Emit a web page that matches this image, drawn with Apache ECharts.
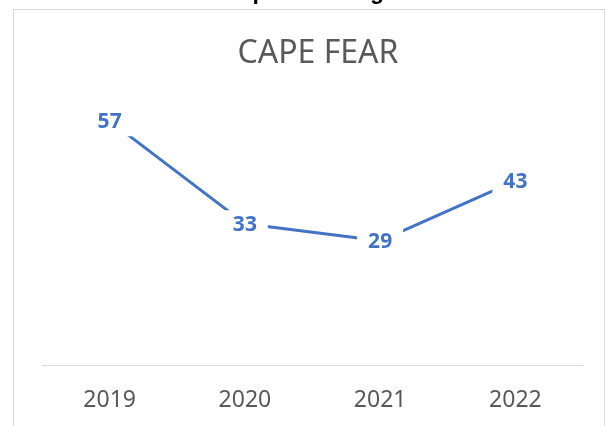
<!DOCTYPE html>
<html lang="en">
<head>
    <meta charset="UTF-8">
    <title>CAPE FEAR</title>
    <style>
        * {
            padding: 0;
            margin: 0;
            box-sizing: border-box;
        }

        html,
        body,
        .chart-container {
            width: 100%;
            height: 100%;
            background: #fff;
        }
    </style>
</head>
<body>
    <div id="chart-container" class="chart-container"></div>
</body>
</html>
<script src="https://cdn.jsdelivr.net/npm/echarts@6/dist/echarts.min.js"></script>
<script>
    // 年份
    const years = ['2019', '2020', '2021', '2022']
    // 数值
    const values = [57, 33, 29, 43]
    // 纵轴范围
    const yMin = 0
    const yMax = 60

    var myChart = echarts.init(document.getElementById('chart-container'))

    var option = {
        backgroundColor: '#fff',
        animation: false,
        title: {
            text: 'CAPE FEAR',
            left: 313,
            textAlign: 'center',
            top: 33,
            textStyle: {
                fontFamily: 'Noto Sans',
                fontWeight: 'normal',
                fontSize: 32,
                color: '#595959'
            }
        },
        graphic: [{
                // 外框
                type: 'rect',
                shape: { x: 13.5, y: 9.5, width: 591, height: 430 },
                style: { fill: 'none', stroke: '#d9d9d9', lineWidth: 1 },
                silent: true
            },
            {
                // 上方被裁掉的标题
                type: 'text',
                left: 226,
                top: -19,
                style: {
                    text: 'Top Percentage',
                    font: 'bold 23px "Liberation Sans"',
                    fill: '#000'
                },
                silent: true
            }
        ],
        grid: {
            left: 42,
            right: 30,
            top: 108,
            bottom: 61
        },
        xAxis: {
            type: 'category',
            data: years,
            axisLine: { lineStyle: { color: '#d9d9d9', width: 1 } },
            axisTick: { show: false },
            axisLabel: {
                margin: 23,
                fontFamily: 'Noto Sans',
                fontSize: 23,
                lineHeight: 24,
                color: '#595959'
            }
        },
        yAxis: {
            type: 'value',
            min: yMin,
            max: yMax,
            show: false,
            splitLine: { show: false }
        },
        series: [{
            type: 'line',
            data: values,
            symbol: 'circle',
            symbolSize: 0,
            showSymbol: true,
            lineStyle: { color: '#4472C4', width: 3 },
            itemStyle: { color: '#4472C4' },
            label: {
                show: true,
                position: 'inside',
                offset: [0, 1],
                fontFamily: 'Noto Sans',
                fontWeight: 'bold',
                fontSize: 21,
                lineHeight: 21,
                color: '#4472C4',
                backgroundColor: '#fff',
                padding: [4, 11]
            }
        }]
    }
    myChart.setOption(option)
</script>
